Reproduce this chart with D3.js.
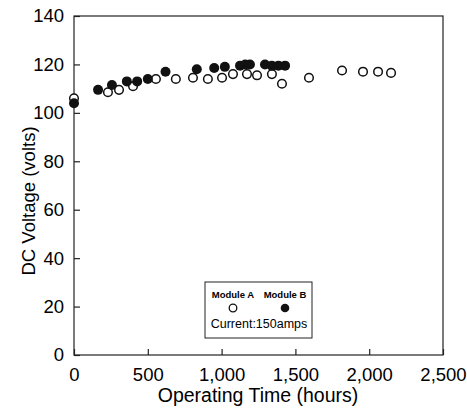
<!DOCTYPE html>
<html>
<head>
<meta charset="utf-8">
<script src="https://cdn.jsdelivr.net/npm/d3@7"></script>
<style>
  body { margin: 0; background: #fff; }
  text { font-family: "Liberation Sans", Arial, sans-serif; fill: #000; }
</style>
</head>
<body>
<div id="chart"></div>
<script>
// Module A (open circles)
var timeA = [0, 230, 305, 400, 555, 690, 806, 907, 1003, 1077, 1172, 1240, 1341, 1409, 1592, 1816, 1958, 2060, 2148];
var voltA = [106, 108.5, 109.5, 111, 114, 114, 114.5, 114, 114.5, 116, 116, 115.5, 116, 112, 114.5, 117.5, 117, 117, 116.5];
// Module B (filled circles)
var timeB = [0, 163, 257, 358, 428, 500, 620, 832, 950, 1022, 1125, 1160, 1192, 1294, 1340, 1385, 1430];
var voltB = [104, 109.5, 111.5, 113, 113, 114, 117, 118, 118.5, 119, 119.5, 120, 120, 120, 119.5, 119.5, 119.5];

var xTicks = [0, 500, 1000, 1500, 2000, 2500];
var yTicks = [0, 20, 40, 60, 80, 100, 120, 140];

var width = 467, height = 408;
var margin = {left: 74, right: 24, top: 16, bottom: 53};

var svg = d3.select("#chart").append("svg")
	.attr("width", width).attr("height", height);

var x = d3.scaleLinear().domain([0, 2500]).range([margin.left, width - margin.right]);
var y = d3.scaleLinear().domain([0, 140]).range([height - margin.bottom, margin.top]);

var fc = d3.format(",");

// frame
svg.append("rect")
	.attr("x", x(0)).attr("y", y(140))
	.attr("width", x(2500) - x(0)).attr("height", y(0) - y(140))
	.attr("fill", "none").attr("stroke", "#222").attr("stroke-width", 1.2);

// x axis, ticks pointing in
var xAxis = svg.append("g")
	.attr("transform", "translate(0," + y(0) + ")")
	.call(d3.axisBottom(x).tickValues(xTicks).tickSizeInner(-6).tickSizeOuter(0)
		.tickPadding(13).tickFormat(fc));
xAxis.select(".domain").remove();
xAxis.selectAll("line").attr("stroke", "#222").attr("stroke-width", 1.2);
xAxis.selectAll("text").attr("font-size", 18.5).attr("fill", "#000")
	.attr("font-family", "Liberation Sans, Arial, sans-serif");

// y axis
var yAxis = svg.append("g")
	.attr("transform", "translate(" + x(0) + ",0)")
	.call(d3.axisLeft(y).tickValues(yTicks).tickSizeInner(-6).tickSizeOuter(0).tickPadding(10));
yAxis.select(".domain").remove();
yAxis.selectAll("line").attr("stroke", "#222").attr("stroke-width", 1.2);
yAxis.selectAll("text").attr("font-size", 18.5).attr("fill", "#000")
	.attr("font-family", "Liberation Sans, Arial, sans-serif");

// axis titles
svg.append("text")
	.attr("x", 258).attr("y", 402)
	.attr("text-anchor", "middle").attr("font-size", 19.5)
	.text("Operating Time (hours)");

svg.append("text")
	.attr("transform", "translate(35," + 201 + ")rotate(-90)")
	.attr("text-anchor", "middle").attr("font-size", 18.5)
	.text("DC Voltage (volts)");

// points
var dataA = timeA.map(function(t, i) { return {t: t, v: voltA[i]}; });
var dataB = timeB.map(function(t, i) { return {t: t, v: voltB[i]}; });

svg.append("g").selectAll("circle").data(dataA).enter().append("circle")
	.attr("cx", function(d) { return x(d.t); })
	.attr("cy", function(d) { return y(d.v); })
	.attr("r", 4.3)
	.attr("fill", "#fff").attr("stroke", "#111").attr("stroke-width", 1.5);

svg.append("g").selectAll("circle").data(dataB).enter().append("circle")
	.attr("cx", function(d) { return x(d.t); })
	.attr("cy", function(d) { return y(d.v); })
	.attr("r", 5)
	.attr("fill", "#111");

// legend
var lg = svg.append("g");
lg.append("rect").attr("x", 205).attr("y", 282).attr("width", 107).attr("height", 56)
	.attr("fill", "#fff").attr("stroke", "#222").attr("stroke-width", 1);
lg.append("text").attr("x", 233).attr("y", 298).attr("text-anchor", "middle")
	.attr("font-size", 9.5).attr("font-weight", "bold").text("Module A");
lg.append("text").attr("x", 285).attr("y", 298).attr("text-anchor", "middle")
	.attr("font-size", 9.5).attr("font-weight", "bold").text("Module B");
lg.append("circle").attr("cx", 233).attr("cy", 308).attr("r", 3.8)
	.attr("fill", "#fff").attr("stroke", "#111").attr("stroke-width", 1.3);
lg.append("circle").attr("cx", 285).attr("cy", 308).attr("r", 4.3).attr("fill", "#111");
lg.append("text").attr("x", 259).attr("y", 328).attr("text-anchor", "middle")
	.attr("font-size", 12.5).text("Current:150amps");
</script>
</body>
</html>
